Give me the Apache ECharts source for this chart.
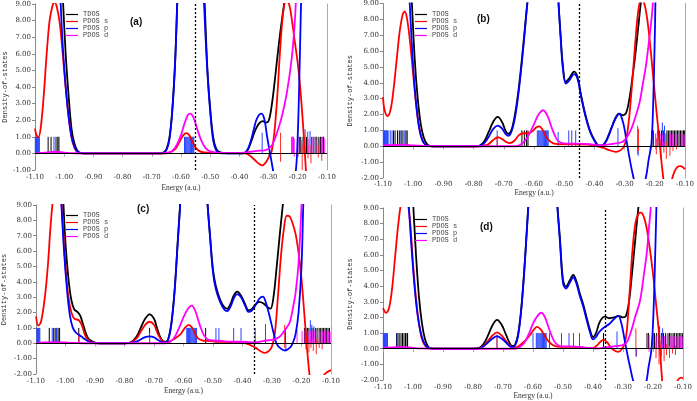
<!DOCTYPE html>
<html><head><meta charset="utf-8">
<script src="https://cdn.jsdelivr.net/npm/echarts@6/dist/echarts.min.js"></script>
<style>html,body{margin:0;padding:0;background:#fff}#c{width:697px;height:401px}</style>
</head><body><div id="c"></div>
<script>
// ---------- tick values ----------
const xTicks = [-1.10,-1.00,-0.90,-0.80,-0.70,-0.60,-0.50,-0.40,-0.30,-0.20,-0.10];
const seriesNames = ['TDOS','PDOS s','PDOS p','PDOS d'];
const panelLabels = ['(a)','(b)','(c)','(d)'];
const yMins = [-1,-2,-2,-2];
const yMax = 9;
const fermi = [-0.553,-0.45,-0.357,-0.363];

// ---------- panel (a) ----------
const aT = [[-1.10,15],[-1.02,15],[-1.012,12],[-1.005,9.5],[-0.995,6.0],[-0.985,3.5],[-0.975,1.5],[-0.965,0.6],[-0.955,0.18],[-0.945,0.04],[-0.93,0],[-0.67,0],[-0.66,0.05],[-0.65,0.25],[-0.64,0.9],[-0.63,2.6],[-0.62,5.6],[-0.612,9.5],[-0.60,15],[-0.535,15],[-0.52,9.5],[-0.51,5.2],[-0.50,2.7],[-0.49,1.0],[-0.48,0.3],[-0.47,0.1],[-0.45,0.02],[-0.39,0],[-0.38,0.05],[-0.37,0.25],[-0.36,0.7],[-0.35,1.2],[-0.34,1.6],[-0.33,1.85],[-0.32,1.95],[-0.31,1.85],[-0.30,1.95],[-0.29,2.8],[-0.28,4.2],[-0.27,5.8],[-0.26,7.3],[-0.25,8.6],[-0.24,10],[-0.22,14],[-0.10,15]];
const aS = [[-1.10,1.5],[-1.095,1.1],[-1.088,1.0],[-1.08,1.6],[-1.07,3.5],[-1.06,6.0],[-1.05,8.0],[-1.04,8.9],[-1.033,9.1],[-1.025,8.8],[-1.015,7.8],[-1.005,6.0],[-0.995,4.0],[-0.985,2.3],[-0.975,1.0],[-0.965,0.35],[-0.955,0.08],[-0.94,0],[-0.66,0],[-0.64,0.05],[-0.62,0.25],[-0.605,0.7],[-0.592,1.1],[-0.582,1.22],[-0.572,1.1],[-0.562,0.75],[-0.55,0.35],[-0.535,0.12],[-0.52,0.06],[-0.48,0.03],[-0.40,0.02],[-0.38,0],[-0.365,-0.12],[-0.35,-0.35],[-0.335,-0.6],[-0.322,-0.72],[-0.31,-0.55],[-0.30,-0.25],[-0.29,0.1],[-0.28,1.3],[-0.27,3.5],[-0.26,6.4],[-0.25,8.5],[-0.24,9.2],[-0.23,9.0],[-0.22,8.0],[-0.21,6.7],[-0.20,5.4],[-0.19,3.6],[-0.18,1.2],[-0.17,-1.5],[-0.16,-3]];
const aP = [[-1.10,15],[-1.025,15],[-1.018,12],[-1.012,9.0],[-1.005,6.5],[-0.995,4.0],[-0.985,2.2],[-0.975,1.0],[-0.965,0.4],[-0.955,0.12],[-0.945,0.03],[-0.93,0],[-0.67,0],[-0.66,0.04],[-0.65,0.2],[-0.64,0.8],[-0.63,2.5],[-0.62,5.5],[-0.613,9],[-0.60,15],[-0.535,15],[-0.521,9],[-0.51,5],[-0.50,2.5],[-0.49,0.8],[-0.48,0.2],[-0.47,0.03],[-0.45,0],[-0.39,0],[-0.38,0.05],[-0.37,0.3],[-0.36,0.8],[-0.35,1.5],[-0.34,2.1],[-0.325,2.4],[-0.315,2.1],[-0.305,1.0],[-0.295,0],[-0.285,-1.0],[-0.27,-2.5],[-0.25,-3.5],[-0.23,-3.0],[-0.215,-2.0],[-0.206,-0.9],[-0.202,0.2],[-0.196,3.5],[-0.189,9],[-0.18,15],[-0.10,15]];
const aD = [[-1.10,0],[-1.07,0.04],[-1.03,0.1],[-1.00,0.05],[-0.96,0.01],[-0.93,0],[-0.66,0],[-0.645,0.05],[-0.63,0.15],[-0.615,0.5],[-0.60,1.1],[-0.588,1.8],[-0.577,2.3],[-0.568,2.4],[-0.558,2.2],[-0.545,1.5],[-0.53,0.75],[-0.515,0.3],[-0.50,0.12],[-0.48,0.05],[-0.45,0.02],[-0.40,0.02],[-0.37,0.08],[-0.34,0.15],[-0.31,0.2],[-0.29,0.45],[-0.272,1.2],[-0.255,2.2],[-0.238,3.6],[-0.221,5.7],[-0.212,7.5],[-0.207,9],[-0.20,12],[-0.10,15]];
const aStkT = [-1.055,-1.045,-1.028,-1.022,-1.018,-0.22,-0.216,-0.195,-0.19,-0.182,-0.17,-0.152,-0.145,-0.135,-0.128,-0.122,-0.117,-0.112];
const aStkS = [[-0.259,-0.5,1.25],[-0.185,-1.0,0.5],[-0.165,-0.3,0.5],[-0.155,-0.6,0.5],[-0.13,-0.25,0.5],[-0.118,-0.45,0.5]];
const aStkP = [-1.099,-1.097,-1.095,-1.093,-1.091,-1.089,-1.087,-1.085,-1.035,-0.588,-0.585,-0.582,-0.579,-0.576,-0.573,-0.570,-0.567,-0.564,-0.561,-0.558,-0.556,[-0.322,0,1.25],[-0.175,0,1.45],[-0.166,0,1.3],[-0.158,0,1.35],-0.14];
const aStkD = [-0.218,[-0.212,-0.2,0.9],-0.2,[-0.188,0,0.8],-0.178,[-0.162,0,0.9],-0.148,[-0.138,0,0.8],[-0.125,0,0.9],-0.115,[-0.108,0,0.9]];

// ---------- panel (b) ----------
const bT = [[-1.10,15],[-1.02,15],[-1.012,12],[-1.005,9.3],[-0.995,5.5],[-0.985,3.0],[-0.975,1.4],[-0.965,0.55],[-0.955,0.15],[-0.945,0.03],[-0.93,0],[-0.80,0],[-0.78,0.05],[-0.765,0.3],[-0.75,0.9],[-0.735,1.55],[-0.72,1.85],[-0.705,1.5],[-0.695,1.0],[-0.685,0.78],[-0.675,1.0],[-0.665,1.8],[-0.655,3.0],[-0.645,4.6],[-0.635,6.5],[-0.625,8.5],[-0.615,10.5],[-0.60,15],[-0.53,15],[-0.52,9.5],[-0.512,7.0],[-0.505,5.2],[-0.495,4.05],[-0.485,4.25],[-0.467,4.7],[-0.455,4.3],[-0.445,3.3],[-0.43,2.0],[-0.415,1.0],[-0.40,0.4],[-0.385,0.05],[-0.375,0.05],[-0.36,0.4],[-0.345,1.1],[-0.33,1.8],[-0.318,2.05],[-0.305,1.95],[-0.295,2.1],[-0.285,2.9],[-0.275,4.2],[-0.265,5.7],[-0.255,7.5],[-0.245,9.3],[-0.235,11],[-0.22,15],[-0.10,15]];
const bS = [[-1.10,3.1],[-1.095,2.3],[-1.085,1.9],[-1.075,2.3],[-1.065,3.6],[-1.055,5.4],[-1.045,7.2],[-1.035,8.3],[-1.028,8.5],[-1.02,8.0],[-1.01,6.5],[-1.00,4.5],[-0.99,2.6],[-0.98,1.2],[-0.97,0.4],[-0.96,0.1],[-0.95,0.02],[-0.93,0],[-0.78,0],[-0.765,0.05],[-0.75,0.15],[-0.735,0.4],[-0.72,0.57],[-0.705,0.45],[-0.69,0.25],[-0.68,0.2],[-0.665,0.35],[-0.65,0.7],[-0.635,0.82],[-0.62,0.82],[-0.605,0.95],[-0.592,1.2],[-0.582,1.25],[-0.572,1.05],[-0.56,0.6],[-0.545,0.28],[-0.53,0.15],[-0.50,0.12],[-0.46,0.12],[-0.42,0.1],[-0.39,0.0],[-0.37,-0.1],[-0.35,-0.25],[-0.33,-0.35],[-0.318,-0.3],[-0.305,-0.1],[-0.295,0.4],[-0.285,1.8],[-0.275,4.0],[-0.265,6.5],[-0.255,8.5],[-0.245,9.3],[-0.235,9.0],[-0.225,8.0],[-0.215,6.3],[-0.205,4.3],[-0.195,2.3],[-0.185,0.4],[-0.175,-1.5],[-0.165,-2.8],[-0.155,-3.0],[-0.145,-2.2],[-0.135,-1.6],[-0.125,-1.3],[-0.115,-1.25],[-0.105,-1.35],[-0.10,-1.45]];
const bP = [[-1.10,15],[-1.025,15],[-1.018,12],[-1.012,9.2],[-1.00,5.0],[-0.99,2.6],[-0.98,1.1],[-0.97,0.4],[-0.96,0.1],[-0.95,0.02],[-0.94,0],[-0.80,0],[-0.78,0.03],[-0.765,0.2],[-0.75,0.6],[-0.735,1.1],[-0.72,1.3],[-0.705,1.1],[-0.695,0.8],[-0.685,0.65],[-0.675,0.9],[-0.665,1.6],[-0.655,2.8],[-0.645,4.4],[-0.635,6.3],[-0.625,8.4],[-0.615,10.5],[-0.60,15],[-0.53,15],[-0.52,9.5],[-0.512,6.9],[-0.505,5.0],[-0.495,3.95],[-0.485,4.1],[-0.467,4.55],[-0.455,4.2],[-0.445,3.2],[-0.43,1.9],[-0.415,0.95],[-0.40,0.35],[-0.385,0.03],[-0.375,0.03],[-0.36,0.35],[-0.345,1.05],[-0.33,1.75],[-0.318,2.05],[-0.305,1.5],[-0.295,0.5],[-0.285,-0.6],[-0.275,-1.6],[-0.265,-2.3],[-0.245,-2.8],[-0.23,-2.0],[-0.22,-0.8],[-0.211,0.2],[-0.205,3],[-0.20,7],[-0.195,11],[-0.18,15],[-0.10,15]];
const bD = [[-1.10,0.05],[-1.06,0.08],[-1.03,0.1],[-1.00,0.05],[-0.96,0.01],[-0.93,0],[-0.66,0],[-0.645,0.1],[-0.63,0.35],[-0.615,0.8],[-0.60,1.4],[-0.585,2.0],[-0.57,2.27],[-0.555,1.9],[-0.54,1.1],[-0.525,0.45],[-0.51,0.22],[-0.49,0.17],[-0.46,0.17],[-0.43,0.15],[-0.40,0.1],[-0.38,0.05],[-0.36,0.1],[-0.33,0.18],[-0.31,0.25],[-0.295,0.5],[-0.28,1.0],[-0.265,1.8],[-0.25,2.8],[-0.24,3.9],[-0.23,5.0],[-0.22,6.5],[-0.21,8.2],[-0.205,9.5],[-0.20,12],[-0.10,15]];
const bStkT = [-1.065,-1.06,-1.052,-1.046,-1.04,-1.034,-1.024,-1.02,-0.64,-0.632,-0.625,-0.62,-0.21,-0.205,-0.19,-0.185,-0.178,-0.172,-0.16,-0.155,-0.15,-0.145,-0.14,-0.135,-0.13,-0.125,-0.12,-0.115,-0.11,-0.105,-0.102];
const bStkS = [[-0.722,0,0.5],[-0.257,-0.5,1.3],[-0.254,-0.3,1.1],[-0.195,-0.5,0.5],[-0.18,-0.7,0.3],[-0.17,-0.4,0.3],[-0.162,-0.8,0.3],[-0.15,-0.6,0.3],[-0.14,-0.3,0.2],[-0.128,-0.2,0.2]];
const bStkP = [-1.099,-1.097,-1.095,-1.093,-1.091,-1.089,-1.087,-1.085,-1.083,-1.076,-1.07,-1.04,-1.028,-0.722,-0.589,-0.586,-0.583,-0.580,-0.577,-0.574,-0.571,-0.568,-0.565,-0.562,-0.559,-0.556,-0.553,[-0.52,0,0.9],-0.485,-0.475,-0.462,[-0.322,0,1.15],[-0.255,-0.6,0],[-0.215,-0.3,0],[-0.175,0,1.5],[-0.168,0,1.3]];
const bStkD = [[-0.198,0,0.8],[-0.192,0,0.85],[-0.182,0,0.8],[-0.175,0,0.75],[-0.165,0,0.8],[-0.158,0,0.85],[-0.148,0,0.8],[-0.142,0,0.75],[-0.132,0,0.8],[-0.127,0,0.8],[-0.118,0,0.85],[-0.112,0,0.8],[-0.107,0,0.8],[-0.103,0,0.75]];

// ---------- panel (c) ----------
const cT = [[-1.10,15],[-1.02,15],[-1.014,12],[-1.008,9.5],[-1.00,6.5],[-0.99,4.2],[-0.98,2.8],[-0.97,2.2],[-0.96,2.05],[-0.95,1.8],[-0.94,1.2],[-0.93,0.6],[-0.92,0.25],[-0.90,0.05],[-0.88,0],[-0.80,0],[-0.78,0.05],[-0.76,0.4],[-0.745,1.0],[-0.73,1.6],[-0.715,1.88],[-0.70,1.6],[-0.69,1.0],[-0.68,0.45],[-0.67,0.15],[-0.66,0.1],[-0.65,0.4],[-0.64,1.5],[-0.63,3.5],[-0.62,6.5],[-0.61,9.5],[-0.60,13],[-0.59,15],[-0.535,15],[-0.52,9.5],[-0.51,7.0],[-0.50,4.8],[-0.49,3.7],[-0.475,2.8],[-0.46,2.3],[-0.452,2.25],[-0.44,2.6],[-0.43,3.1],[-0.418,3.36],[-0.405,3.1],[-0.39,2.5],[-0.38,2.15],[-0.37,2.2],[-0.355,2.55],[-0.343,2.7],[-0.33,2.6],[-0.315,2.35],[-0.305,2.25],[-0.295,3.0],[-0.285,4.8],[-0.275,6.8],[-0.265,8.7],[-0.255,10.5],[-0.24,15],[-0.10,15]];
const cS = [[-1.10,1.75],[-1.092,1.15],[-1.083,1.4],[-1.07,3.0],[-1.06,5.0],[-1.05,7.8],[-1.04,9.8],[-1.03,11],[-1.02,10.5],[-1.01,8.0],[-1.00,5.0],[-0.99,3.0],[-0.98,2.0],[-0.97,1.6],[-0.955,1.5],[-0.945,1.2],[-0.935,0.6],[-0.925,0.25],[-0.91,0.07],[-0.89,0],[-0.80,0],[-0.78,0.05],[-0.76,0.3],[-0.745,0.75],[-0.73,1.2],[-0.715,1.4],[-0.70,1.2],[-0.69,0.75],[-0.68,0.35],[-0.67,0.12],[-0.66,0.05],[-0.65,0.1],[-0.63,0.3],[-0.61,0.6],[-0.595,1.0],[-0.583,1.2],[-0.57,1.0],[-0.56,0.6],[-0.55,0.3],[-0.535,0.18],[-0.52,0.15],[-0.49,0.1],[-0.45,0.08],[-0.42,0.05],[-0.39,0.0],[-0.37,-0.15],[-0.355,-0.3],[-0.34,-0.5],[-0.325,-0.63],[-0.31,-0.5],[-0.30,-0.2],[-0.29,0.7],[-0.28,3.0],[-0.27,5.6],[-0.26,7.4],[-0.25,8.3],[-0.24,8.25],[-0.23,7.8],[-0.22,7.1],[-0.21,5.9],[-0.20,4.2],[-0.19,1.8],[-0.18,-0.6],[-0.17,-2.5],[-0.16,-3.5],[-0.14,-2.8],[-0.125,-2.1],[-0.115,-1.9],[-0.10,-1.75]];
const cP = [[-1.10,15],[-1.025,15],[-1.02,12],[-1.015,9.5],[-1.005,6.0],[-0.995,3.5],[-0.985,1.8],[-0.975,1.0],[-0.965,0.7],[-0.955,0.55],[-0.94,0.35],[-0.925,0.15],[-0.91,0.05],[-0.89,0],[-0.80,0],[-0.76,0.1],[-0.745,0.25],[-0.73,0.4],[-0.715,0.45],[-0.70,0.38],[-0.685,0.2],[-0.67,0.05],[-0.66,0.05],[-0.65,0.35],[-0.64,1.4],[-0.63,3.4],[-0.62,6.4],[-0.61,9.4],[-0.60,13],[-0.59,15],[-0.535,15],[-0.52,9.5],[-0.51,6.9],[-0.50,4.6],[-0.49,3.5],[-0.475,2.65],[-0.46,2.15],[-0.452,2.1],[-0.44,2.4],[-0.43,2.9],[-0.418,3.2],[-0.405,3.0],[-0.39,2.4],[-0.38,2.05],[-0.37,2.1],[-0.355,2.5],[-0.343,2.9],[-0.331,3.03],[-0.32,2.6],[-0.31,1.9],[-0.30,1.1],[-0.295,0.7],[-0.285,0.0],[-0.27,-0.35],[-0.256,-0.47],[-0.24,-0.3],[-0.23,0.0],[-0.22,0.6],[-0.21,2.0],[-0.20,5.0],[-0.194,9],[-0.185,14],[-0.17,15],[-0.10,15]];
const cD = [[-1.10,0],[-1.07,0.05],[-1.03,0.08],[-1.00,0.05],[-0.96,0.02],[-0.90,0],[-0.66,0],[-0.645,0.1],[-0.63,0.4],[-0.615,1.0],[-0.60,1.7],[-0.585,2.25],[-0.572,2.45],[-0.56,2.1],[-0.545,1.2],[-0.53,0.5],[-0.515,0.22],[-0.50,0.18],[-0.47,0.15],[-0.44,0.1],[-0.41,0.1],[-0.38,0.08],[-0.36,0.05],[-0.34,0.1],[-0.32,0.18],[-0.30,0.22],[-0.285,0.3],[-0.27,0.5],[-0.255,0.9],[-0.24,1.35],[-0.23,2.2],[-0.22,3.3],[-0.21,5.2],[-0.20,8.9],[-0.195,11],[-0.185,15],[-0.10,15]];
const cStkT = [-1.055,-1.04,-1.035,-1.03,-1.025,-1.02,-0.955,-0.715,-0.525,[-0.255,0,1.0],-0.19,-0.185,-0.18,-0.175,-0.165,-0.16,-0.152,-0.147,-0.14,-0.135,-0.13,-0.125,-0.12,-0.115,-0.11,-0.105];
const cStkS = [[-0.955,0,0.7],[-0.715,0,0.7],[-0.257,-0.3,1.2],[-0.185,-0.4,0.4],[-0.175,-0.6,0.3],[-0.168,-0.3,0.3],[-0.16,-0.5,0.3],[-0.15,-0.7,0.3],[-0.14,-0.3,0.2],[-0.13,-0.4,0.2]];
const cStkP = [-1.097,-1.095,-1.093,-1.091,-1.089,-1.087,-1.045,-1.03,[-0.955,0,0.5],[-0.715,0,0.5],-0.589,-0.586,-0.583,-0.580,-0.577,-0.574,-0.571,-0.568,-0.565,-0.562,-0.559,-0.556,-0.49,-0.48,-0.43,-0.405,-0.357,[-0.322,0,1.25],[-0.253,-0.5,0],[-0.17,0,1.5],[-0.165,0,1.2],[-0.158,0,1.1]];
const cStkD = [[-0.215,0,0.9],[-0.198,0,0.8],[-0.188,0,0.85],[-0.178,0,0.8],[-0.17,0,0.75],[-0.162,0,0.8],[-0.155,0,0.85],[-0.145,0,0.8],[-0.138,0,0.75],[-0.128,0,0.8],[-0.122,0,0.8],[-0.113,0,0.85],[-0.108,0,0.8],[-0.103,0,0.75]];

// ---------- panel (d) ----------
const dT = [[-1.10,15],[-1.015,15],[-1.007,12],[-1.00,9.5],[-0.99,6.0],[-0.98,3.3],[-0.97,1.6],[-0.96,0.6],[-0.95,0.15],[-0.94,0.03],[-0.92,0],[-0.80,0],[-0.78,0.05],[-0.765,0.3],[-0.75,0.85],[-0.735,1.5],[-0.72,1.85],[-0.705,1.55],[-0.69,0.9],[-0.68,0.45],[-0.67,0.18],[-0.66,0.25],[-0.65,0.9],[-0.64,2.4],[-0.63,4.8],[-0.62,7.8],[-0.61,11],[-0.60,15],[-0.535,15],[-0.52,9.5],[-0.51,7.0],[-0.50,4.4],[-0.49,3.97],[-0.478,4.35],[-0.466,4.72],[-0.455,4.3],[-0.445,3.6],[-0.432,2.8],[-0.42,1.9],[-0.41,1.2],[-0.40,0.75],[-0.39,1.0],[-0.38,1.6],[-0.37,1.95],[-0.36,2.05],[-0.345,1.95],[-0.33,2.0],[-0.316,2.1],[-0.30,2.0],[-0.29,2.1],[-0.28,3.0],[-0.27,4.8],[-0.26,6.8],[-0.25,8.8],[-0.24,10.5],[-0.22,15],[-0.10,15]];
const dS = [[-1.10,2.6],[-1.09,2.3],[-1.08,2.6],[-1.07,3.8],[-1.06,5.8],[-1.05,7.8],[-1.04,9.3],[-1.03,10],[-1.02,9.6],[-1.01,8.2],[-1.00,5.5],[-0.99,3.2],[-0.98,1.6],[-0.97,0.6],[-0.96,0.2],[-0.95,0.05],[-0.93,0],[-0.80,0],[-0.78,0.03],[-0.765,0.2],[-0.75,0.5],[-0.735,0.85],[-0.72,1.05],[-0.705,0.85],[-0.69,0.5],[-0.68,0.25],[-0.67,0.1],[-0.66,0.08],[-0.645,0.2],[-0.63,0.45],[-0.615,0.75],[-0.60,1.15],[-0.587,1.4],[-0.575,1.25],[-0.56,0.8],[-0.545,0.4],[-0.53,0.2],[-0.51,0.12],[-0.48,0.12],[-0.45,0.12],[-0.42,0.05],[-0.40,0.05],[-0.385,0.25],[-0.375,0.45],[-0.366,0.56],[-0.355,0.45],[-0.343,0.15],[-0.33,-0.1],[-0.316,-0.2],[-0.305,-0.05],[-0.295,0.3],[-0.287,1.2],[-0.278,3.6],[-0.268,6.4],[-0.258,8.1],[-0.248,8.65],[-0.24,8.7],[-0.23,8.4],[-0.22,7.6],[-0.21,6.3],[-0.20,4.8],[-0.19,2.9],[-0.18,1.0],[-0.17,-1.9],[-0.16,-3.5],[-0.14,-3.2],[-0.125,-2.3],[-0.115,-1.95],[-0.105,-1.85],[-0.10,-1.9]];
const dP = [[-1.10,15],[-1.025,15],[-1.02,12],[-1.015,9.5],[-1.005,6.5],[-0.995,4.0],[-0.985,2.2],[-0.975,1.1],[-0.965,0.45],[-0.955,0.15],[-0.945,0.04],[-0.93,0],[-0.80,0],[-0.78,0.02],[-0.765,0.15],[-0.75,0.4],[-0.735,0.65],[-0.72,0.8],[-0.705,0.65],[-0.69,0.4],[-0.68,0.2],[-0.67,0.1],[-0.66,0.2],[-0.65,0.8],[-0.64,2.3],[-0.63,4.7],[-0.62,7.7],[-0.61,11],[-0.60,15],[-0.535,15],[-0.52,9.5],[-0.51,6.8],[-0.50,4.2],[-0.49,3.85],[-0.478,4.2],[-0.466,4.57],[-0.455,4.15],[-0.445,3.45],[-0.432,2.65],[-0.42,1.75],[-0.41,1.05],[-0.40,0.6],[-0.39,0.75],[-0.38,1.05],[-0.37,1.25],[-0.36,1.4],[-0.345,1.6],[-0.33,1.9],[-0.316,2.1],[-0.305,1.6],[-0.295,0.6],[-0.285,-0.4],[-0.275,-1.3],[-0.265,-2.1],[-0.245,-2.8],[-0.225,-2.3],[-0.215,-1.2],[-0.205,0.0],[-0.198,2.5],[-0.192,6.5],[-0.188,9.5],[-0.183,13],[-0.17,15],[-0.10,15]];
const dD = [[-1.10,0.05],[-1.06,0.1],[-1.03,0.12],[-1.00,0.06],[-0.97,0.02],[-0.93,0],[-0.66,0],[-0.645,0.1],[-0.63,0.35],[-0.615,0.9],[-0.60,1.6],[-0.585,2.1],[-0.572,2.3],[-0.56,2.0],[-0.545,1.2],[-0.53,0.5],[-0.515,0.2],[-0.50,0.15],[-0.47,0.15],[-0.44,0.1],[-0.41,0.05],[-0.39,0.02],[-0.37,0.05],[-0.35,0.1],[-0.33,0.15],[-0.31,0.2],[-0.29,0.35],[-0.275,1.0],[-0.26,2.0],[-0.243,3.1],[-0.23,4.8],[-0.221,6.1],[-0.213,7.8],[-0.207,9.2],[-0.20,12],[-0.19,15],[-0.10,15]];
const dStkT = [-1.055,-1.05,-1.04,-1.035,-1.03,-1.025,-1.02,-1.018,-0.365,-0.22,-0.215,-0.2,-0.195,-0.188,-0.182,-0.172,-0.165,-0.158,-0.15,-0.145,-0.14,-0.133,-0.128,-0.122,-0.117,-0.112,-0.107,-0.102];
const dStkS = [[-0.72,0,0.9],[-0.257,-0.5,1.3],[-0.19,-0.6,0.4],[-0.18,-1.0,0.3],[-0.172,-0.5,0.3],[-0.163,-0.8,0.3],[-0.155,-0.4,0.3],[-0.145,-0.6,0.2],[-0.135,-0.3,0.2],[-0.125,-0.4,0.2]];
const dStkP = [-1.099,-1.097,-1.095,-1.093,-1.091,-1.089,-1.087,-1.085,-1.053,-1.045,[-0.72,0,0.8],-0.6,-0.589,-0.586,-0.583,-0.580,-0.577,-0.574,-0.571,-0.568,-0.565,-0.562,-0.559,-0.556,-0.545,-0.505,-0.48,-0.465,-0.445,[-0.32,0,1.1],[-0.255,-0.5,0],[-0.178,0,1.45],[-0.168,0,1.3]];
const dStkD = [[-0.213,-0.2,0.9],[-0.198,0,0.8],[-0.19,0,0.85],[-0.18,0,0.8],[-0.17,0,0.75],[-0.162,0,0.8],[-0.153,0,0.85],[-0.143,0,0.8],[-0.136,0,0.75],[-0.127,0,0.8],[-0.12,0,0.8],[-0.113,0,0.85],[-0.108,0,0.8],[-0.103,0,0.75]];

// ---------- layout (not data) ----------
const panels = [
  {grid:{left:35,top:4,width:292,height:166}, curves:[aT,aS,aP,aD], sticks:[aStkT,aStkP,aStkS,aStkD], yGap:26, xGap:14, lblMargin:4, legend:[66,11], label:[130,17]},
  {grid:{left:383,top:3,width:304,height:175}, curves:[bT,bS,bP,bD], sticks:[bStkT,bStkP,bStkS,bStkD], yGap:29, xGap:11, lblMargin:3, legend:[415,11], label:[477,14]},
  {grid:{left:36,top:205,width:295,height:169}, curves:[cT,cS,cP,cD], sticks:[cStkT,cStkP,cStkS,cStkD], yGap:28, xGap:13, lblMargin:4, legend:[66,212], label:[137,204]},
  {grid:{left:383,top:208,width:300,height:172}, curves:[dT,dS,dP,dD], sticks:[dStkT,dStkP,dStkS,dStkD], yGap:29, xGap:12, lblMargin:4, legend:[415,216], label:[480,222]}
];
const lineColors = ['#000000','#ff0000','#0000ff','#ff00ff'];
const stickColors = ['#000000','#2846ff','#ff2a2a','#ff22ff'];
const tickFont = 'DejaVu Serif';

function stk(arr){ return arr.map(v => Array.isArray(v) ? v : [v,0,1]); }

const option = {animation:false, backgroundColor:'#fff', grid:[], xAxis:[], yAxis:[], series:[], legend:[], title:[]};
panels.forEach((p,i) => {
  option.grid.push(Object.assign({containLabel:false}, p.grid));
  const xb = {type:'value', gridIndex:i, position:'bottom', min:xTicks[0], max:xTicks[xTicks.length-1], interval:0.1,
    name:'Energy (a.u.)', nameLocation:'middle', nameGap:p.xGap,
    nameTextStyle:{fontFamily:'Liberation Serif', fontSize:7.5, color:'#333'},
    axisLine:{lineStyle:{color:'#888', width:1}}, axisTick:{length:3, lineStyle:{color:'#888'}},
    axisLabel:{fontFamily:tickFont, fontSize:7, color:'#333', margin:p.lblMargin, showMinLabel:true, showMaxLabel:true, formatter:v=>v.toFixed(2)},
    splitLine:{show:false}};
  const xt = {type:'value', gridIndex:i, position:'top', min:xTicks[0], max:xTicks[xTicks.length-1], interval:0.1,
    axisLine:{lineStyle:{color:'#aaa'}}, axisTick:{inside:true, length:3, lineStyle:{color:'#aaa'}}, axisLabel:{show:false}, splitLine:{show:false}};
  const yl = {type:'value', gridIndex:i, position:'left', min:yMins[i], max:yMax, interval:1,
    name:'Density-of-states', nameLocation:'middle', nameGap:p.yGap, nameRotate:90,
    nameTextStyle:{fontFamily:'Liberation Mono', fontSize:7, color:'#333'},
    axisLine:{show:true, lineStyle:{color:'#888'}}, axisTick:{show:true, length:3, lineStyle:{color:'#888'}},
    axisLabel:{fontFamily:tickFont, fontSize:7, color:'#333', margin:4, formatter:v=>v.toFixed(2)},
    splitLine:{show:false}};
  const yr = {type:'value', gridIndex:i, position:'right', min:yMins[i], max:yMax, interval:1,
    axisLine:{show:true, lineStyle:{color:'#aaa'}}, axisTick:{show:false}, axisLabel:{show:false}, splitLine:{show:false}};
  option.xAxis.push(xb, xt);
  option.yAxis.push(yl, yr);
  // sticks
  p.sticks.forEach((arr,k) => {
    const col = stickColors[k];
    option.series.push({type:'custom', name:'sticks', xAxisIndex:2*i, yAxisIndex:2*i, silent:true, z:1,
      encode:{x:0, y:[1,2]}, data:stk(arr),
      renderItem:(params, api) => {
        const x = api.value(0);
        const p0 = api.coord([x, api.value(1)]);
        const p1 = api.coord([x, api.value(2)]);
        return {type:'line', shape:{x1:p0[0], y1:p0[1], x2:p1[0], y2:p1[1]}, style:{stroke:col, lineWidth:1}};
      }});
  });
  // curves
  p.curves.forEach((arr,k) => {
    const s = {type:'line', name:seriesNames[k], xAxisIndex:2*i, yAxisIndex:2*i, data:arr,
      symbol:'none', showSymbol:false, smooth:0.35, clip:true, z:3+k,
      lineStyle:{color:lineColors[k], width:1.8}, itemStyle:{color:lineColors[k]}};
    if (k === 0) {
      s.markLine = {silent:true, symbol:['none','none'], label:{show:false}, z:10,
        data:[{yAxis:0, lineStyle:{color:'#000', type:'solid', width:1}},
              {xAxis:fermi[i], lineStyle:{color:'#000', type:[2,2], width:1.3}}]};
    }
    option.series.push(s);
  });
  option.legend.push({left:p.legend[0], top:p.legend[1], orient:'vertical', padding:0, itemGap:0,
    icon:'rect', itemWidth:12, itemHeight:1.2, data:seriesNames, selectedMode:false,
    textStyle:{fontFamily:'Liberation Mono', fontSize:7, color:'#444', lineHeight:7, height:7}});
  option.title.push({text:panelLabels[i], left:p.label[0], top:p.label[1], padding:0,
    textStyle:{fontFamily:'Liberation Sans', fontSize:10, fontWeight:'bold', color:'#111'}});
});

const chart = echarts.init(document.getElementById('c'), null, {renderer:'canvas'});
chart.setOption(option);
</script>
</body></html>
